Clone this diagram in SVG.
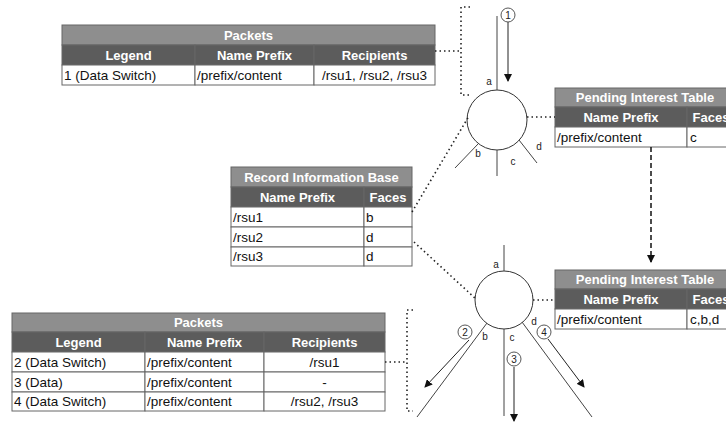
<svg xmlns="http://www.w3.org/2000/svg" width="726" height="423" viewBox="0 0 726 423">
<defs>
<marker id="ah" markerWidth="8" markerHeight="8" refX="7" refY="4" orient="auto" markerUnits="userSpaceOnUse">
<path d="M0,0 L8,4 L0,8 Z" fill="#111"/>
</marker>
<style>
.t{fill:#8e8e8e;stroke:#666;stroke-width:1}
.h{fill:#5c5c5c;stroke:#666;stroke-width:1}
.c{fill:#fff;stroke:#666;stroke-width:1}
.tt{font-family:"Liberation Sans",Arial,sans-serif;font-size:13px;font-weight:bold;fill:#fff;text-anchor:middle}
.d{font-family:"Liberation Sans",Arial,sans-serif;font-size:13.5px;fill:#111}
.m{text-anchor:middle}
.lab{font-family:"Liberation Sans",Arial,sans-serif;font-size:10px;fill:#222;text-anchor:middle}
.face{stroke:#444;stroke-width:1;fill:none}
.dot{stroke:#222;stroke-width:1.6;stroke-dasharray:1.5 3;fill:none}
.arr{stroke:#222;stroke-width:1;fill:none;marker-end:url(#ah)}
.num{fill:#fff;stroke:#444;stroke-width:0.9}
.nt{font-family:"Liberation Sans",Arial,sans-serif;font-size:10px;fill:#222;text-anchor:middle}
</style>
</defs>
<rect width="726" height="423" fill="#fff"/>

<g id="packets-top">
<rect class="t" x="62" y="25" width="373" height="20"/>
<rect class="h" x="62" y="45" width="133" height="20"/>
<rect class="h" x="195" y="45" width="119" height="20"/>
<rect class="h" x="314" y="45" width="121" height="20"/>
<rect class="c" x="62" y="65" width="133" height="20"/>
<rect class="c" x="195" y="65" width="119" height="20"/>
<rect class="c" x="314" y="65" width="121" height="20"/>
<text class="tt" x="248.5" y="40">Packets</text>
<text class="tt" x="128.5" y="60">Legend</text>
<text class="tt" x="254.5" y="60">Name Prefix</text>
<text class="tt" x="374.5" y="60">Recipients</text>
<text class="d" x="64" y="80">1 (Data Switch)</text>
<text class="d" x="197" y="80">/prefix/content</text>
<text class="d m" x="374.5" y="80">/rsu1, /rsu2, /rsu3</text>
</g>

<g id="pit-top">
<rect class="t" x="555" y="88" width="180" height="19"/>
<rect class="h" x="555" y="107" width="132" height="20"/>
<rect class="h" x="687" y="107" width="48" height="20"/>
<rect class="c" x="555" y="127" width="132" height="20"/>
<rect class="c" x="687" y="127" width="48" height="20"/>
<text class="tt" x="645" y="102">Pending Interest Table</text>
<text class="tt" x="621" y="122">Name Prefix</text>
<text class="tt" x="711" y="122">Faces</text>
<text class="d" x="557" y="142">/prefix/content</text>
<text class="d" x="690" y="142">c</text>
</g>

<g id="rib">
<rect class="t" x="231" y="167" width="181" height="20"/>
<rect class="h" x="231" y="187" width="133" height="20"/>
<rect class="h" x="364" y="187" width="48" height="20"/>
<rect class="c" x="231" y="207" width="133" height="20"/>
<rect class="c" x="364" y="207" width="48" height="20"/>
<rect class="c" x="231" y="227" width="133" height="20"/>
<rect class="c" x="364" y="227" width="48" height="20"/>
<rect class="c" x="231" y="247" width="133" height="19"/>
<rect class="c" x="364" y="247" width="48" height="19"/>
<text class="tt" x="321.5" y="182">Record Information Base</text>
<text class="tt" x="297.5" y="202">Name Prefix</text>
<text class="tt" x="388" y="202">Faces</text>
<text class="d" x="233" y="222">/rsu1</text>
<text class="d" x="366" y="222">b</text>
<text class="d" x="233" y="242">/rsu2</text>
<text class="d" x="366" y="242">d</text>
<text class="d" x="233" y="261">/rsu3</text>
<text class="d" x="366" y="261">d</text>
</g>

<g id="pit-bottom">
<rect class="t" x="555" y="270" width="180" height="19"/>
<rect class="h" x="555" y="289" width="132" height="20"/>
<rect class="h" x="687" y="289" width="48" height="20"/>
<rect class="c" x="555" y="309" width="132" height="20"/>
<rect class="c" x="687" y="309" width="48" height="20"/>
<text class="tt" x="645" y="284">Pending Interest Table</text>
<text class="tt" x="621" y="304">Name Prefix</text>
<text class="tt" x="711" y="304">Faces</text>
<text class="d" x="557" y="324">/prefix/content</text>
<text class="d" x="690" y="324">c,b,d</text>
</g>

<g id="packets-bottom">
<rect class="t" x="12" y="313" width="373" height="19"/>
<rect class="h" x="12" y="332" width="133" height="20"/>
<rect class="h" x="145" y="332" width="119" height="20"/>
<rect class="h" x="264" y="332" width="121" height="20"/>
<rect class="c" x="12" y="352" width="133" height="20"/>
<rect class="c" x="145" y="352" width="119" height="20"/>
<rect class="c" x="264" y="352" width="121" height="20"/>
<rect class="c" x="12" y="372" width="133" height="20"/>
<rect class="c" x="145" y="372" width="119" height="20"/>
<rect class="c" x="264" y="372" width="121" height="20"/>
<rect class="c" x="12" y="392" width="133" height="19"/>
<rect class="c" x="145" y="392" width="119" height="19"/>
<rect class="c" x="264" y="392" width="121" height="19"/>
<text class="tt" x="198.5" y="327">Packets</text>
<text class="tt" x="78.5" y="347">Legend</text>
<text class="tt" x="204.5" y="347">Name Prefix</text>
<text class="tt" x="324.5" y="347">Recipients</text>
<text class="d" x="14" y="367">2 (Data Switch)</text>
<text class="d" x="147" y="367">/prefix/content</text>
<text class="d m" x="324.5" y="367">/rsu1</text>
<text class="d" x="14" y="387">3 (Data)</text>
<text class="d" x="147" y="387">/prefix/content</text>
<text class="d m" x="324.5" y="387">-</text>
<text class="d" x="14" y="406">4 (Data Switch)</text>
<text class="d" x="147" y="406">/prefix/content</text>
<text class="d m" x="324.5" y="406">/rsu2, /rsu3</text>
</g>

<g id="router-top">
<circle cx="497" cy="120" r="30" fill="#fff" stroke="#333" stroke-width="1"/>
<line class="face" x1="497" y1="16" x2="497" y2="90"/>
<line class="face" x1="478" y1="144" x2="455" y2="168"/>
<line class="face" x1="497" y1="150" x2="497" y2="176"/>
<line class="face" x1="519" y1="140" x2="537" y2="163"/>
<text class="lab" x="489" y="85">a</text>
<text class="lab" x="478" y="157">b</text>
<text class="lab" x="513" y="165">c</text>
<text class="lab" x="539" y="150">d</text>
</g>

<g id="router-bottom">
<circle cx="504" cy="300" r="29" fill="#fff" stroke="#333" stroke-width="1"/>
<line class="face" x1="504" y1="245" x2="504" y2="271"/>
<line class="face" x1="487" y1="323" x2="417" y2="417"/>
<line class="face" x1="504" y1="329" x2="504" y2="416"/>
<line class="face" x1="522" y1="322" x2="592" y2="417"/>
<text class="lab" x="496" y="268">a</text>
<text class="lab" x="485" y="340">b</text>
<text class="lab" x="512" y="341">c</text>
<text class="lab" x="534" y="325">d</text>
</g>

<g id="connectors">
<path class="dot" d="M435,51 H461 M470,7 H461 V95 H470"/>
<path class="dot" d="M385,362 H407 M413,310 H407 V411 H413"/>
<line class="dot" x1="527" y1="117" x2="555" y2="117"/>
<line class="dot" x1="533" y1="300" x2="555" y2="300"/>
<line class="dot" x1="412" y1="212" x2="469" y2="116"/>
<line class="dot" x1="414" y1="242" x2="476" y2="299"/>
<line x1="651" y1="147" x2="651" y2="262" stroke="#111" stroke-width="1.5" stroke-dasharray="5 3" marker-end="url(#ah)"/>
<line class="arr" x1="508" y1="22" x2="508" y2="81"/>
<line class="arr" x1="469" y1="340" x2="425" y2="387"/>
<line class="arr" x1="514" y1="367" x2="514" y2="421"/>
<line class="arr" x1="548" y1="339" x2="584" y2="387"/>
</g>

<g id="labels">
<circle class="num" cx="508" cy="15" r="7"/><text class="nt" x="508" y="18.5">1</text>
<circle class="num" cx="465" cy="332" r="7"/><text class="nt" x="465" y="335.5">2</text>
<circle class="num" cx="514" cy="359" r="7"/><text class="nt" x="514" y="362.5">3</text>
<circle class="num" cx="544" cy="332" r="7"/><text class="nt" x="544" y="335.5">4</text>
</g>
</svg>
